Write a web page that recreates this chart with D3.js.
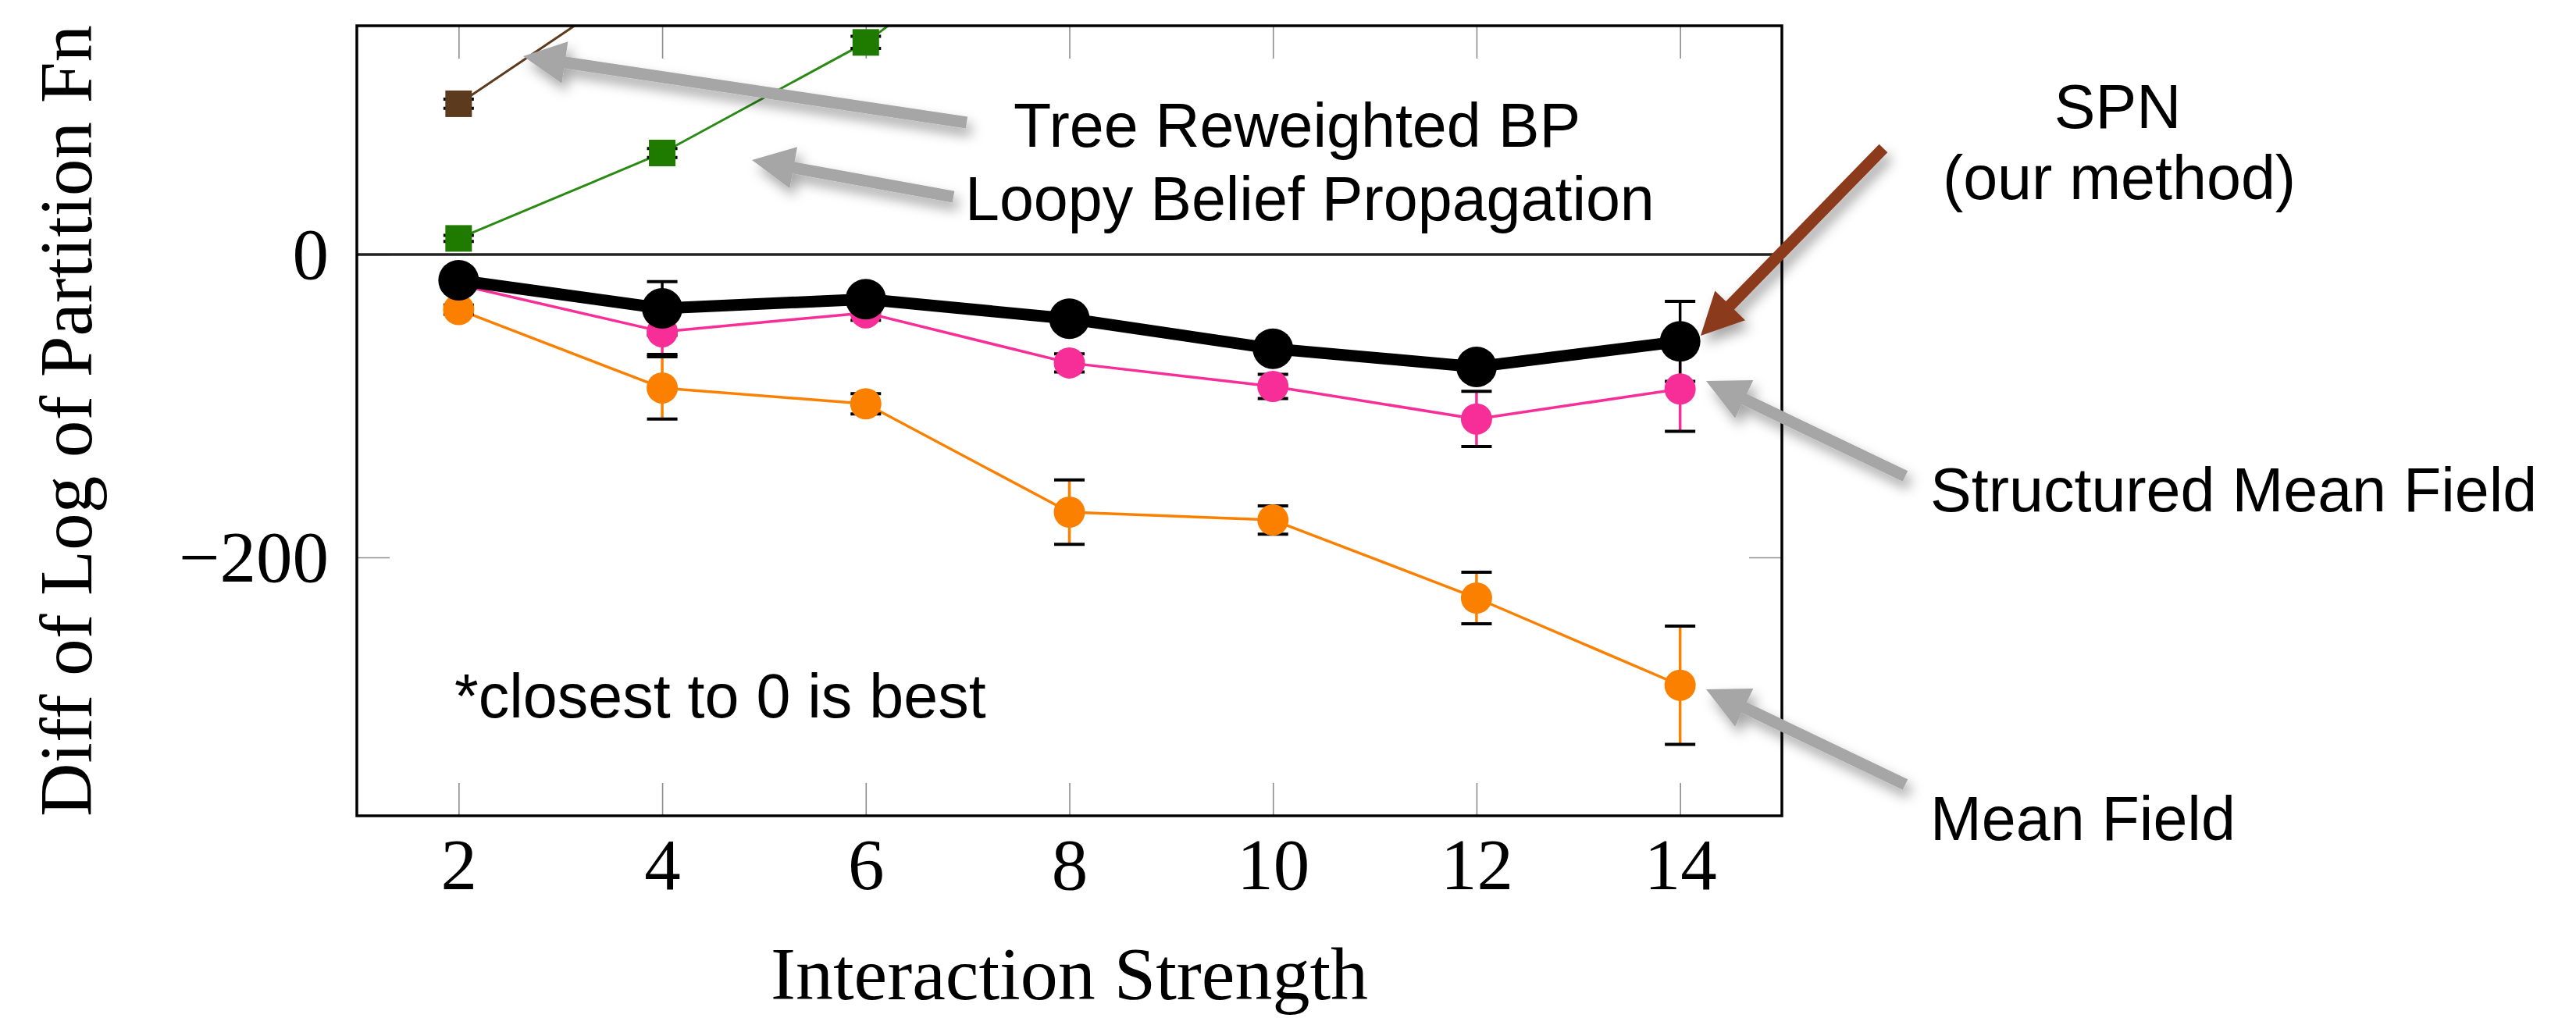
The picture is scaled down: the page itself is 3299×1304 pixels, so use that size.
<!DOCTYPE html>
<html><head><meta charset="utf-8">
<script src="https://cdn.jsdelivr.net/npm/d3@7"></script>
<style>html,body{margin:0;padding:0;background:#fff;} svg{display:block}</style>
</head><body>
<svg id="chart" width="3299" height="1304"></svg>
<script>
// ---------------- data ----------------
const xValues = [2, 4, 6, 8, 10, 12, 14];
const xTicks = [2, 4, 6, 8, 10, 12, 14];
const yTicks = [-200, 0];

const spnValues = [-17.0, -35.6, -29.5, -42.4, -62.2, -74.2, -57.4];
const spnErr    = [4, 17.7, 4, 4, 4, 5, 26.4];
const smfValues = [-20.0, -51.0, -38.5, -71.6, -87.1, -108.6, -88.8];
const smfErr    = [3, 15, 5, 6, 8, 18.2, 28];
const mfValues  = [-36.4, -88.1, -98.6, -170.1, -175.3, -226.8, -284.4];
const mfErr     = [3, 20.5, 6.7, 21.2, 9.3, 17, 39];
const lbpX      = [2, 4, 6, 8];
const lbpValues = [10.6, 67, 140, 240];
const lbpErr    = [2, 3, 4, 4];
const trwX      = [2, 4];
const trwValues = [99.5, 190];
const trwErr    = [3, 3];

const xTitle = "Interaction Strength";
const yTitle = "Diff of Log of Partition Fn";

// annotations (in data coordinates)
const arrowLabels = [
  {text: "Tree Reweighted BP", x: 7.452, y: 71.1, anchor: "start"},
  {text: "Loopy Belief Propagation", x: 6.976, y: 22.66, anchor: "start"},
  {text: "SPN", x: 18.299, y: 83.48, anchor: "middle"},
  {text: "(our method)", x: 18.314, y: 36.58, anchor: "middle"},
  {text: "Structured Mean Field", x: 16.458, y: -169.6, anchor: "start"},
  {text: "Mean Field", x: 16.458, y: -386.6, anchor: "start"},
  {text: "*closest to 0 is best", x: 1.959, y: -305.7, anchor: "start"}
];
const arrows = [
  {tip: [2.634, 130.9], tail: [6.991, 87.1], color: "#a6a6a6"},
  {tip: [4.882, 62.3], tail: [6.861, 38.1], color: "#a6a6a6"},
  {tip: [14.202, -53.6], tail: [15.997, 70.1], color: "#8b3b1e"},
  {tip: [14.256, -83.5], tail: [16.212, -146.4], color: "#a6a6a6"},
  {tip: [14.256, -287.1], tail: [16.212, -350.0], color: "#a6a6a6"}
];

// ---------------- layout ----------------
const pLeft = 457, pRight = 2282, pTop = 33, pBottom = 1045;
const serif = "'Liberation Serif', 'Times New Roman', serif";
const sans = "'Liberation Sans', Arial, Helvetica, sans-serif";

const svg = d3.select("#chart");
svg.append("rect").attr("width", 3299).attr("height", 1304).attr("fill", "#fff");

const defs = svg.append("defs");
defs.append("clipPath").attr("id", "plotclip").append("rect")
  .attr("x", pLeft).attr("y", pTop).attr("width", pRight - pLeft).attr("height", pBottom - pTop);
const flt = defs.append("filter").attr("id", "shadow")
  .attr("x", "-30%").attr("y", "-60%").attr("width", "170%").attr("height", "260%");
flt.append("feDropShadow").attr("dx", 6).attr("dy", 10).attr("stdDeviation", 8)
  .attr("flood-color", "#000").attr("flood-opacity", 0.35);

const x = d3.scaleLinear().domain([1, 15]).range([pLeft, pRight]);
const y = d3.scaleLinear().domain([-370.6, 151]).range([pBottom, pTop]);

// ---------------- axes ----------------
const tickColor = "#8c8c8c";
function styleAxis(g) {
  g.select(".domain").remove();
  g.selectAll(".tick line").attr("stroke", tickColor).attr("stroke-width", 1.6);
}
const gxB = svg.append("g").attr("transform", `translate(0,${pBottom})`)
  .call(d3.axisBottom(x).tickValues(xTicks).tickSizeInner(-42).tickSizeOuter(0).tickPadding(0));
styleAxis(gxB);
gxB.selectAll(".tick text").attr("y", 94).attr("dy", null)
  .attr("font-family", serif).attr("font-size", 93).attr("fill", "#000");

const gxT = svg.append("g").attr("transform", `translate(0,${pTop})`)
  .call(d3.axisTop(x).tickValues(xTicks).tickSizeInner(-42).tickSizeOuter(0).tickFormat(""));
styleAxis(gxT);

const gyL = svg.append("g").attr("transform", `translate(${pLeft},0)`)
  .call(d3.axisLeft(y).tickValues(yTicks).tickSizeInner(-42).tickSizeOuter(0).tickPadding(36));
styleAxis(gyL);
gyL.selectAll(".tick text").attr("x", -36).attr("dy", "0.33em")
  .attr("font-family", serif).attr("font-size", 93).attr("fill", "#000");

const gyR = svg.append("g").attr("transform", `translate(${pRight},0)`)
  .call(d3.axisRight(y).tickValues(yTicks).tickSizeInner(-42).tickSizeOuter(0).tickFormat(""));
styleAxis(gyR);

// zero line
svg.append("line").attr("x1", pLeft).attr("x2", pRight).attr("y1", y(0)).attr("y2", y(0))
  .attr("stroke", "#222").attr("stroke-width", 3.5);

// ---------------- series ----------------
const series = [
  {xs: trwX, ys: trwValues, err: trwErr, color: "#5c3a1e", stem: "#5c3a1e", width: 3, marker: "square", size: 34},
  {xs: lbpX, ys: lbpValues, err: lbpErr, color: "#1f7a00", line: "#2a8a14", stem: "#1f7a00", width: 3, marker: "square", size: 34},
  {xs: xValues, ys: mfValues, err: mfErr, color: "#fb8000", stem: "#fb8000", width: 3.5, marker: "circle", size: 20},
  {xs: xValues, ys: smfValues, err: smfErr, color: "#f72e97", stem: "#f72e97", width: 3.5, marker: "circle", size: 20},
  {xs: xValues, ys: spnValues, err: spnErr, color: "#000", stem: "#000", width: 15, marker: "circle", size: 26}
];
series.forEach(s => { s.pts = s.xs.map((xv, i) => ({x: xv, y: s.ys[i], e: s.err[i]})); });

const plot = svg.append("g").attr("clip-path", "url(#plotclip)");
const line = d3.line().x(d => x(d.x)).y(d => y(d.y));

series.forEach(s => {
  plot.append("path").datum(s.pts).attr("d", line).attr("fill", "none")
    .attr("stroke", s.line || s.color).attr("stroke-width", s.width).attr("stroke-linejoin", "round");
});
series.forEach(s => {
  const g = plot.append("g");
  g.selectAll("line.stem").data(s.pts).join("line").attr("class", "stem")
    .attr("x1", d => x(d.x)).attr("x2", d => x(d.x))
    .attr("y1", d => y(d.y + d.e)).attr("y2", d => y(d.y - d.e))
    .attr("stroke", s.stem).attr("stroke-width", 3.5);
  [1, -1].forEach(sg => {
    g.selectAll("line.cap" + (sg > 0 ? "u" : "d")).data(s.pts).join("line")
      .attr("class", "cap" + (sg > 0 ? "u" : "d"))
      .attr("x1", d => x(d.x) - 19.5).attr("x2", d => x(d.x) + 19.5)
      .attr("y1", d => y(d.y + sg * d.e)).attr("y2", d => y(d.y + sg * d.e))
      .attr("stroke", "#000").attr("stroke-width", 4);
  });
});
series.forEach(s => {
  const g = plot.append("g");
  if (s.marker === "circle") {
    g.selectAll("circle").data(s.pts).join("circle")
      .attr("cx", d => x(d.x)).attr("cy", d => y(d.y)).attr("r", s.size).attr("fill", s.color);
  } else {
    g.selectAll("rect").data(s.pts).join("rect")
      .attr("x", d => x(d.x) - s.size / 2).attr("y", d => y(d.y) - s.size / 2)
      .attr("width", s.size).attr("height", s.size).attr("fill", s.color);
  }
});

// frame
svg.append("rect").attr("x", pLeft).attr("y", pTop).attr("width", pRight - pLeft).attr("height", pBottom - pTop)
  .attr("fill", "none").attr("stroke", "#000").attr("stroke-width", 3.5);

// axis titles
svg.append("text").attr("x", (pLeft + pRight) / 2).attr("y", 1280).attr("text-anchor", "middle")
  .attr("font-family", serif).attr("font-size", 96).attr("fill", "#000").text(xTitle);
svg.append("text").attr("transform", `translate(117,${(pTop + pBottom) / 2}) rotate(-90)`)
  .attr("text-anchor", "middle").attr("font-family", serif).attr("font-size", 95)
  .attr("fill", "#000").text(yTitle);

// ---------------- annotations ----------------
function arrowPoints(T, S, w, L, Hh) {
  const dx = S[0] - T[0], dy = S[1] - T[1], len = Math.hypot(dx, dy);
  const ux = dx / len, uy = dy / len, px = -uy, py = ux;
  const bx = T[0] + L * ux, by = T[1] + L * uy;
  return [
    [T[0], T[1]],
    [bx + Hh * px, by + Hh * py],
    [bx + w / 2 * px, by + w / 2 * py],
    [S[0] + w / 2 * px, S[1] + w / 2 * py],
    [S[0] - w / 2 * px, S[1] - w / 2 * py],
    [bx - w / 2 * px, by - w / 2 * py],
    [bx - Hh * px, by - Hh * py]
  ];
}
const ag = svg.append("g");
arrows.forEach(a => {
  const T = [x(a.tip[0]), y(a.tip[1])], S = [x(a.tail[0]), y(a.tail[1])];
  ag.append("polygon").attr("points", arrowPoints(T, S, 15, 54, 27).map(p => p.join(",")).join(" "))
    .attr("fill", a.color).attr("filter", "url(#shadow)");
});
svg.append("g").selectAll("text").data(arrowLabels).join("text")
  .attr("x", d => x(d.x)).attr("y", d => y(d.y)).attr("text-anchor", d => d.anchor)
  .attr("font-family", sans).attr("font-size", 79).attr("fill", "#000").text(d => d.text);
</script>
</body></html>
